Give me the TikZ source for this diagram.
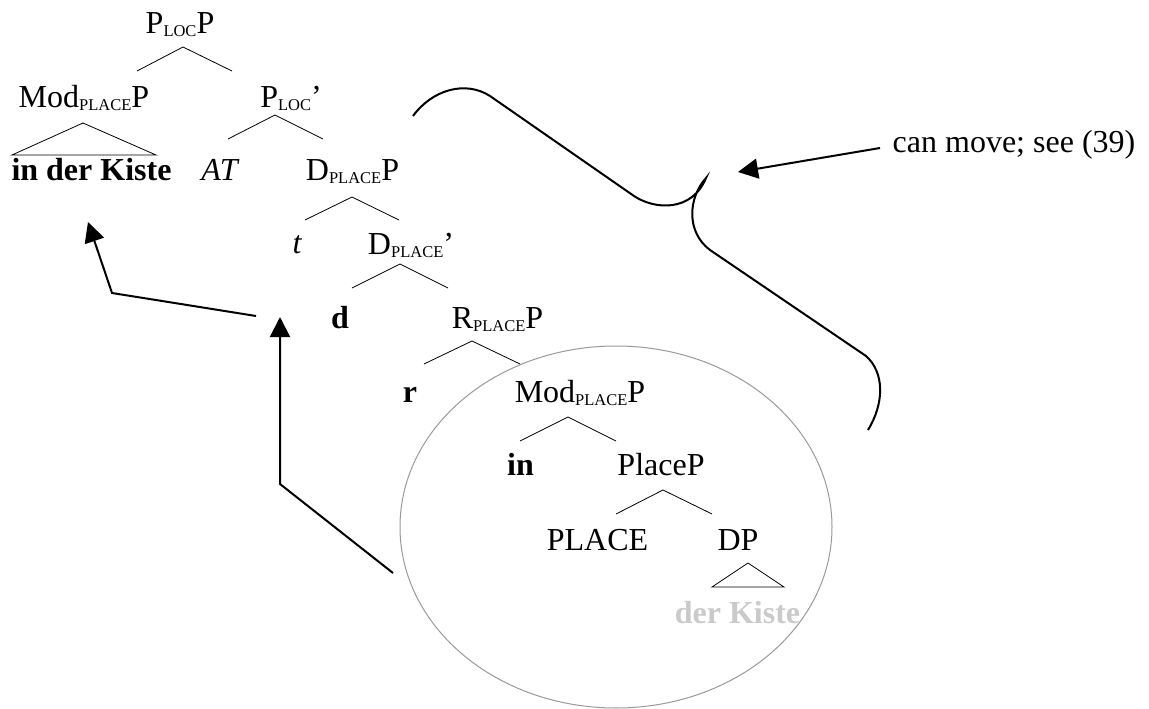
\documentclass[tikz,border=0pt]{standalone}
\usepackage{fontspec}
\setmainfont{Liberation Serif}
\usetikzlibrary{arrows.meta}
\newcommand{\lsub}[1]{\raisebox{-3pt}{\fontsize{16.5}{16.5}\selectfont #1}}
\definecolor{ellgray}{HTML}{999999}
\definecolor{kistegray}{HTML}{CACACA}
\tikzset{
  lbl/.style={anchor=base, inner sep=0pt, font=\fontsize{32}{37}\selectfont},
  branch/.style={line width=0.8pt},
  mvarrow/.style={line width=2pt, -{Triangle[length=20pt,width=20pt]}},
  bracep/.style={line width=2pt},
}
\begin{document}
\begin{tikzpicture}[x=1pt,y=-1pt]
\useasboundingbox (0,0) rectangle (1149,709);
% ellipse
\draw[ellgray, line width=1pt] (616,527) ellipse [x radius=216, y radius=181];
% nodes
\node[lbl] (plocp) at (180,34) {P\lsub{LOC}P};
\node[lbl] (modp1) at (84,107) {Mod\lsub{PLACE}P};
\node[lbl] (plocbar) at (291,107) {P\lsub{LOC}’};
\node[lbl] (kiste1) at (91.5,180) {\bfseries in der Kiste};
\node[lbl] (at) at (219.5,180) {\itshape AT};
\node[lbl] (dplacep) at (352.5,180) {D\lsub{PLACE}P};
\node[lbl] (t) at (297,253) {\itshape t};
\node[lbl] (dplacebar) at (411,254) {D\lsub{PLACE}’};
\node[lbl] (d) at (340,328) {\bfseries d};
\node[lbl] (rplacep) at (497.5,328) {R\lsub{PLACE}P};
\node[lbl] (r) at (410,402) {\bfseries r};
\node[lbl] (modp2) at (580,402) {Mod\lsub{PLACE}P};
\node[lbl] (in) at (520.5,475) {\bfseries in};
\node[lbl] (placep) at (661,475) {PlaceP};
\node[lbl] (place) at (597.5,550) {PLACE};
\node[lbl] (dp) at (738,550) {DP};
\node[lbl, text=kistegray] (kiste2) at (737.5,623) {\bfseries der Kiste};
\node[lbl] (canmove) at (1014,152) {can move; see (39)};
% branches
\draw[branch] (137,71) -- (183,47) -- (232,71);
\draw[branch] (12,155) -- (83,123) -- (156,155) -- cycle;
\draw[branch] (228,139) -- (275,115) -- (323,139);
\draw[branch] (305,220) -- (352,197) -- (399,220);
\draw[branch] (352,288) -- (400,264) -- (448,288);
\draw[branch] (424,364) -- (472,341) -- (520,364);
\draw[branch] (520,441) -- (568,417) -- (616,441);
\draw[branch] (616,514) -- (663,490) -- (712,514);
\draw[branch] (712,587) -- (748,563) -- (784,587) -- cycle;
% brace
\draw[bracep] (413,116) .. controls (432,90) and (465,80) .. (490,96)
  -- (634,196) .. controls (655,210) and (692,212) .. (706,178)
  .. controls (688,198) and (686,232) .. (710,250)
  -- (866,356) .. controls (884,372) and (885,402) .. (868,430);
% arrows
\coordinate (a1s) at (256,316);
\coordinate (a1m) at (112,293);
\coordinate (a1e) at (88,222);
\draw[mvarrow] (a1s) -- (a1m) -- (a1e);
\coordinate (a2s) at (393,573);
\coordinate (a2m) at (280,484);
\coordinate (a2e) at (280,317);
\draw[mvarrow] (a2s) -- (a2m) -- (a2e);
\coordinate (a3s) at (880,148);
\coordinate (a3e) at (738,172);
\draw[mvarrow] (a3s) -- (a3e);
\end{tikzpicture}
\end{document}
